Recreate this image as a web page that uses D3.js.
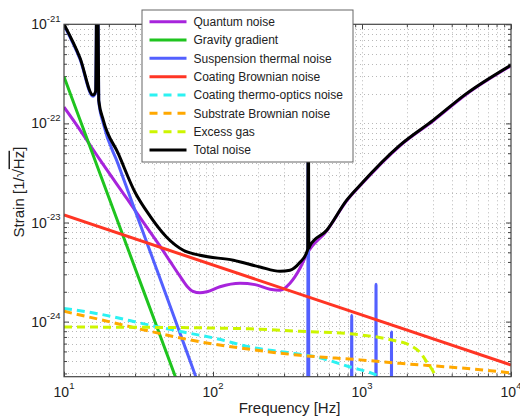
<!DOCTYPE html>
<html><head><meta charset="utf-8">
<script src="https://cdn.jsdelivr.net/npm/d3@7"></script>
<style>
body{margin:0;background:#fff;}
text{font-family:"Liberation Sans",Arial,Helvetica,sans-serif;fill:#222;}
</style></head><body>
<svg id="c" width="520" height="417"></svg>
<script>
// ---------- data ----------
const xTicks = [10, 100, 1000, 10000];
const xTickExp = ["1", "2", "3", "4"];
const yTicks = [1e-21, 1e-22, 1e-23, 1e-24];
const yTickExp = ["-21", "-22", "-23", "-24"];
const seriesNames = ["Quantum noise", "Gravity gradient", "Suspension thermal noise", "Coating Brownian noise",
  "Coating thermo-optics noise", "Substrate Brownian noise", "Excess gas", "Total noise"];

const quantumF = [10, 11.85, 17.4, 26.4, 37.8, 44.1, 51.4, 60.0, 66.9, 73.4, 81.8, 91.1, 111.4, 151.8, 191.4, 241.3, 281.6, 328.7, 383.7, 425.5, 579.9, 789.6, 969.6, 1799, 3010, 5043, 10000];
const quantumH = [1.46e-22, 1.02e-22, 4.31e-23, 1.75e-23, 8.03e-24, 5.77e-24, 4.07e-24, 2.87e-24, 2.28e-24, 2.02e-24, 1.95e-24, 2.0e-24, 2.25e-24, 2.44e-24, 2.36e-24, 2.12e-24, 2.07e-24, 2.44e-24, 3.45e-24, 4.79e-24, 8.24e-24, 1.655e-23, 2.345e-23, 5.95e-23, 1.064e-22, 1.98e-22, 3.82e-22];

const gravityF = [10, 20, 30, 40, 55.6, 70];
const gravityH = [2.96e-22, 1.79e-23, 3.46e-24, 1.08e-24, 2.84e-25, 1.12e-25];

const suspF = [10, 12.81, 15.65, 16.3, 16.65, 16.85, 17.1, 18.35, 23.1, 29.96, 41.9, 55.6, 76.9, 120, 430, 436, 442, 845, 853, 861, 1232, 1242, 1252, 1568, 1578, 1588, 10000];
const suspH = [0.98e-21, 4.45e-22, 1.88e-22, 2.05e-22, 3e-21, 3e-21, 1.68e-22, 1.0e-22, 3.88e-23, 1.33e-23, 3.36e-24, 1.05e-24, 2.75e-25, 4.4e-26, 1e-27, 3e-22, 1e-27, 1e-28, 1.16e-24, 1e-28, 1e-28, 2.38e-24, 1e-28, 1e-28, 7.85e-25, 1e-28, 1e-29];

const coatBrF = [10, 10000];
const coatBrH = [1.19e-23, 3.65e-25];

const thermoF = [10, 17.4, 37.8, 63.2, 105.9, 177, 296.3, 496.6, 831, 1256, 2000];
const thermoH = [1.36e-24, 1.19e-24, 9.19e-25, 7.85e-25, 6.73e-25, 5.54e-25, 4.93e-25, 4.39e-25, 3.48e-25, 2.87e-25, 1.8e-25];

const substrF = [10, 17.4, 37.8, 81.8, 177, 383.7, 969.6, 1799, 4548, 10000];
const substrH = [1.27e-24, 1.05e-24, 7.98e-25, 6.25e-25, 5.25e-25, 4.57e-25, 4.11e-25, 3.79e-25, 3.41e-25, 3.04e-25];

const gasF = [10, 37.8, 177, 383.7, 831, 1614, 2099, 2449, 2729, 3090, 3400];
const gasH = [8.81e-25, 8.75e-25, 8.45e-25, 7.98e-25, 7.53e-25, 6.48e-25, 5.77e-25, 4.9e-25, 3.88e-25, 2.87e-25, 1.8e-25];

const totalF = [10, 12.81, 15.65, 16.3, 16.65, 16.85, 17.1, 18.35, 23.1, 29.96, 37.8, 48.9, 63.2, 81.8, 136.9, 206.8, 281.6, 328.7, 383.7, 425.5, 432, 436, 440, 446, 579.9, 789.6, 969.6, 1799, 3010, 5043, 10000];
const totalH = [1e-21, 4.57e-22, 1.93e-22, 2.1e-22, 3e-21, 3e-21, 1.72e-22, 1.08e-22, 4.98e-23, 2.02e-23, 1.16e-23, 7.1e-24, 5.25e-24, 4.67e-24, 4.16e-24, 3.56e-24, 3.22e-24, 3.30e-24, 3.97e-24, 5.0e-24, 5.4e-24, 3e-22, 5.5e-24, 5.8e-24, 8.36e-24, 1.68e-23, 2.38e-23, 6.04e-23, 1.08e-22, 2.01e-22, 3.88e-22];

// ---------- styles ----------
const styles = [
  {color: "#a724dc", dash: null},
  {color: "#1fc41f", dash: null},
  {color: "#5360ff", dash: null},
  {color: "#ff3524", dash: null},
  {color: "#2cf2f2", dash: "8,5"},
  {color: "#ffa800", dash: "8,5"},
  {color: "#cdf500", dash: "8,5"},
  {color: "#000000", dash: null}
];
const seriesData = [
  [quantumF, quantumH], [gravityF, gravityH], [suspF, suspH], [coatBrF, coatBrH],
  [thermoF, thermoH], [substrF, substrH], [gasF, gasH], [totalF, totalH]
];

// ---------- chart ----------
const L = 64, R = 511, T = 24.3, B = 376.7;
const x = d3.scaleLog().domain([10, 1e4]).range([L, R]);
const y = d3.scaleLog().domain([2.78e-25, 1e-21]).range([B, T]);
const svg = d3.select("#c");

svg.append("defs").append("clipPath").attr("id", "clip")
  .append("rect").attr("x", L).attr("y", T).attr("width", R - L).attr("height", B - T);

const xAll = [];
for (let e = 1; e < 4; e++) for (let k = 1; k < 10; k++) xAll.push(k * Math.pow(10, e));
xAll.push(1e4);
const yAll = [];
for (let e = -25; e < -21; e++) for (let k = 1; k < 10; k++) {
  const v = k * Math.pow(10, e);
  if (v >= 2.78e-25 && v <= 1e-21) yAll.push(v);
}
yAll.push(1e-21);
const xMinor = xAll.filter(v => !xTicks.some(t => Math.abs(t - v) / t < 1e-6));
const yMinor = yAll.filter(v => !yTicks.some(t => Math.abs(t - v) / t < 1e-6));

// grid
const grid = svg.append("g").attr("stroke", "#b8b8b8").attr("stroke-width", 1).attr("stroke-dasharray", "1,3");
grid.selectAll(".gx").data(xAll.filter(v => v > 10 && v < 1e4)).enter().append("line")
  .attr("x1", d => Math.round(x(d)) + 0.5).attr("x2", d => Math.round(x(d)) + 0.5)
  .attr("y1", T).attr("y2", B);
grid.selectAll(".gy").data(yAll.filter(v => v < 1e-21)).enter().append("line")
  .attr("y1", d => Math.round(y(d)) + 0.5).attr("y2", d => Math.round(y(d)) + 0.5)
  .attr("x1", L).attr("x2", R);

// ticks via d3 axes (inward)
function tickAxis(gen, scale, vals, size, tr) {
  const g = svg.append("g").attr("transform", tr)
    .call(gen(scale).tickValues(vals).tickSize(size).tickFormat(""));
  g.select(".domain").remove();
  g.selectAll("line").attr("stroke", "#444");
}
tickAxis(d3.axisBottom, x, xTicks, -5, `translate(0,${B})`);
tickAxis(d3.axisBottom, x, xMinor, -3, `translate(0,${B})`);
tickAxis(d3.axisTop, x, xTicks, -5, `translate(0,${T})`);
tickAxis(d3.axisTop, x, xMinor, -3, `translate(0,${T})`);
tickAxis(d3.axisLeft, y, yTicks, -5, `translate(${L},0)`);
tickAxis(d3.axisLeft, y, yMinor, -3, `translate(${L},0)`);
tickAxis(d3.axisRight, y, yTicks, -5, `translate(${R},0)`);
tickAxis(d3.axisRight, y, yMinor, -3, `translate(${R},0)`);

// curves
const line = d3.line().x(d => x(d[0])).y(d => y(d[1])).curve(d3.curveMonotoneX);
const curves = svg.append("g").attr("clip-path", "url(#clip)");
seriesData.forEach((s, i) => {
  const pts = s[0].map((f, j) => [f, s[1][j]]);
  curves.append("path").attr("d", line(pts))
    .attr("fill", "none").attr("stroke", styles[i].color)
    .attr("stroke-width", 3).attr("stroke-linejoin", "round")
    .attr("stroke-dasharray", styles[i].dash);
});

// box
svg.append("rect").attr("x", L).attr("y", T).attr("width", R - L).attr("height", B - T)
  .attr("fill", "none").attr("stroke", "#444").attr("stroke-width", 1.2);

// tick labels
xTicks.forEach((t, i) => {
  const tx = svg.append("text").attr("x", x(t)).attr("y", B + 20).attr("text-anchor", "middle");
  tx.append("tspan").attr("font-size", 14).text("10");
  tx.append("tspan").attr("font-size", 9.5).attr("dy", -7.5).text(xTickExp[i]);
});
yTicks.forEach((t, i) => {
  const tx = svg.append("text").attr("x", L - 3.5).attr("y", y(t) + 5).attr("text-anchor", "end");
  tx.append("tspan").attr("font-size", 14).text("10");
  tx.append("tspan").attr("font-size", 9.5).attr("dy", -7.5).text(yTickExp[i]);
});

// axis titles
svg.append("text").attr("x", (L + R) / 2 + 2).attr("y", 413).attr("text-anchor", "middle")
  .attr("font-size", 15).text("Frequency [Hz]");
const yl = svg.append("text").attr("transform", "translate(23.5,192) rotate(-90)")
  .attr("text-anchor", "middle").attr("font-size", 15);
yl.append("tspan").text("Strain  [1/\u221A");
yl.append("tspan").style("text-decoration", "overline").text("Hz");
yl.append("tspan").text("]");

// legend
const lg = svg.append("g");
lg.append("rect").attr("x", 142).attr("y", 10).attr("width", 211).attr("height", 152)
  .attr("fill", "#fff").attr("stroke", "#666").attr("stroke-width", 1);
seriesNames.forEach((n, i) => {
  const cy = 21.7 + i * 18.33;
  lg.append("line").attr("x1", 149.5).attr("x2", 186.5).attr("y1", cy).attr("y2", cy)
    .attr("stroke", styles[i].color).attr("stroke-width", 3)
    .attr("stroke-dasharray", styles[i].dash ? "8,6" : null);
  lg.append("text").attr("x", 193.5).attr("y", cy + 4.3).attr("font-size", 12).text(n);
});
</script>
</body></html>
